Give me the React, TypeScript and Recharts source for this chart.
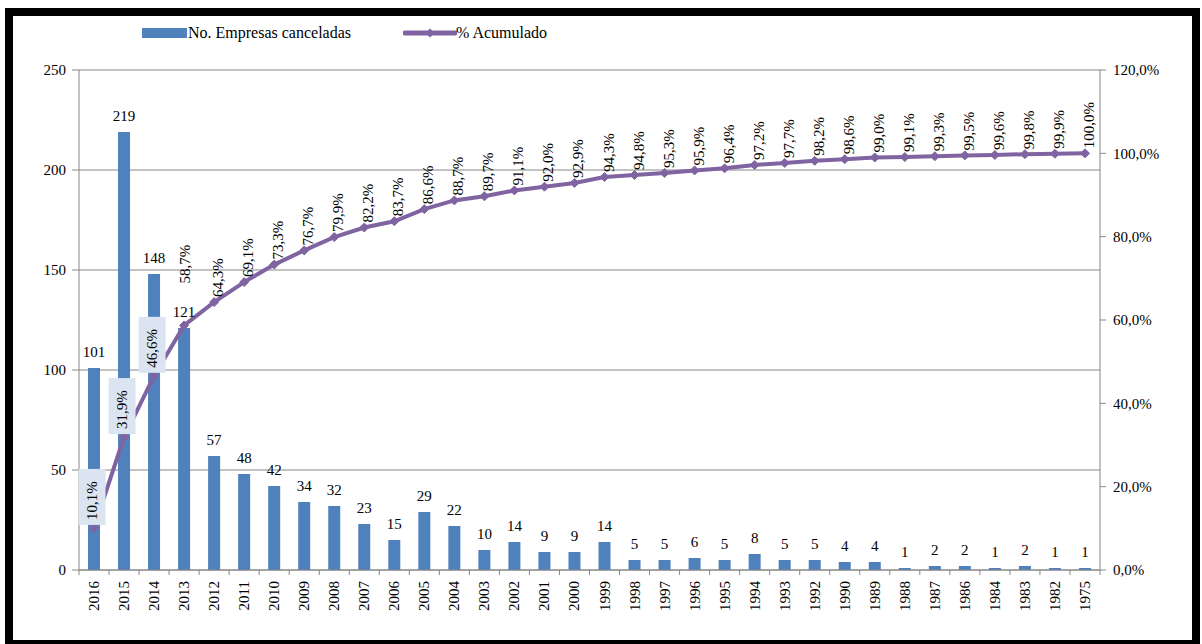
import React from 'react';
import {
  ComposedChart,
  Bar,
  Line,
  XAxis,
  YAxis,
  CartesianGrid,
  LabelList,
} from 'recharts';

// Year of cancellation (categories, in chart order)
const years = [
  '2016', '2015', '2014', '2013', '2012', '2011', '2010', '2009', '2008', '2007',
  '2006', '2005', '2004', '2003', '2002', '2001', '2000', '1999', '1998', '1997',
  '1996', '1995', '1994', '1993', '1992', '1990', '1989', '1988', '1987', '1986',
  '1984', '1983', '1982', '1975',
];

// No. Empresas canceladas per year
const canceladas = [
  101, 219, 148, 121, 57, 48, 42, 34, 32, 23,
  15, 29, 22, 10, 14, 9, 9, 14, 5, 5,
  6, 5, 8, 5, 5, 4, 4, 1, 2, 2,
  1, 2, 1, 1,
];

// % Acumulado (cumulative share)
const acumulado = [
  10.1, 31.9, 46.6, 58.7, 64.3, 69.1, 73.3, 76.7, 79.9, 82.2,
  83.7, 86.6, 88.7, 89.7, 91.1, 92.0, 92.9, 94.3, 94.8, 95.3,
  95.9, 96.4, 97.2, 97.7, 98.2, 98.6, 99.0, 99.1, 99.3, 99.5,
  99.6, 99.8, 99.9, 100.0,
];

const countTicks = [0, 50, 100, 150, 200, 250];
const pctTicks = [0, 20, 40, 60, 80, 100, 120];

const data = years.map((year, i) => ({
  year,
  canceladas: canceladas[i],
  acumulado: acumulado[i],
}));

const FONT = '"Liberation Serif", "Times New Roman", serif';
const BAR_COLOR = '#4F81BD';
const LINE_COLOR = '#8064A2';
const AXIS_COLOR = '#868686';

const CHART_W = 1202;
const CHART_H = 644;
const PLOT_LEFT = 79;
const PLOT_RIGHT = 1100;
const LEFT_AXIS_W = 60;
const RIGHT_AXIS_W = 80;
const X_AXIS_H = 50;
const BAND = (PLOT_RIGHT - PLOT_LEFT) / years.length;

const fmtPct = (v: number) => `${v.toFixed(1).replace('.', ',')}%`;

// Year label rotated upward, with tick marks on the category boundaries
const YearTick = (props: any) => {
  const { x, y, payload, index } = props;
  const last = index === years.length - 1;
  return (
    <g>
      <line x1={x - BAND / 2} x2={x - BAND / 2} y1={y} y2={y + 5} stroke={AXIS_COLOR} />
      {last && (
        <line x1={x + BAND / 2} x2={x + BAND / 2} y1={y} y2={y + 5} stroke={AXIS_COLOR} />
      )}
      <text
        transform={`translate(${x},${y + 11}) rotate(-90)`}
        textAnchor="end"
        dominantBaseline="central"
        fontFamily={FONT}
        fontSize={15}
        fill="#000"
      >
        {payload.value}
      </text>
    </g>
  );
};

// Diamond marker for the cumulative line
const Diamond = (props: any) => {
  const { cx, cy } = props;
  if (cx == null || cy == null) return null;
  const r = 4.5;
  return (
    <polygon
      points={`${cx},${cy - r} ${cx + r},${cy} ${cx},${cy + r} ${cx - r},${cy}`}
      fill={LINE_COLOR}
      stroke={LINE_COLOR}
    />
  );
};

// Rotated percentage labels above each point; the first three sit in shaded boxes
const PctLabel = (props: any) => {
  const { x, y, value, index } = props;
  const text = fmtPct(Number(value));
  if (index < 3) {
    const w = 27;
    const h = 56;
    const bx = x - 2 - w / 2;
    const by = y - 3 - h;
    return (
      <g>
        <rect x={bx} y={by} width={w} height={h} fill="#DBE5F1" />
        <text
          transform={`translate(${x - 2},${by + h - 5}) rotate(-90)`}
          textAnchor="start"
          dominantBaseline="central"
          fontFamily={FONT}
          fontSize={15}
          fill="#000"
        >
          {text}
        </text>
      </g>
    );
  }
  const lift = index === 3 ? 42 : 5;
  const dx = index === 3 ? 1 : 4;
  return (
    <text
      transform={`translate(${x + dx},${y - lift}) rotate(-90)`}
      textAnchor="start"
      dominantBaseline="central"
      fontFamily={FONT}
      fontSize={15}
      fill="#000"
    >
      {text}
    </text>
  );
};

const LegendRow = () => (
  <div
    style={{
      position: 'absolute',
      left: 0,
      top: 0,
      width: CHART_W,
      height: 60,
      fontFamily: FONT,
      fontSize: 16,
      color: '#000',
      pointerEvents: 'none',
    }}
  >
    <div style={{ position: 'absolute', left: 142, top: 28, width: 45, height: 10, background: BAR_COLOR }} />
    <div style={{ position: 'absolute', left: 188, top: 23, lineHeight: '20px', whiteSpace: 'nowrap' }}>
      No. Empresas canceladas
    </div>
    <svg style={{ position: 'absolute', left: 403, top: 26 }} width={54} height={14}>
      <line x1={2} x2={52} y1={7} y2={7} stroke={LINE_COLOR} strokeWidth={5} strokeLinecap="round" />
      <polygon points="27,2.5 31.5,7 27,11.5 22.5,7" fill={LINE_COLOR} />
    </svg>
    <div style={{ position: 'absolute', left: 456, top: 23, lineHeight: '20px', whiteSpace: 'nowrap' }}>
      % Acumulado
    </div>
  </div>
);

export default function App() {
  return (
    <div
      style={{
        position: 'absolute',
        left: 0,
        top: 0,
        width: CHART_W,
        height: CHART_H,
        background: '#fff',
        overflow: 'hidden',
      }}
    >
      <ComposedChart
        width={CHART_W}
        height={CHART_H}
        data={data}
        margin={{
          top: 70,
          left: PLOT_LEFT - LEFT_AXIS_W,
          right: CHART_W - PLOT_RIGHT - RIGHT_AXIS_W,
          bottom: CHART_H - 570 - X_AXIS_H,
        }}
      >
        <CartesianGrid yAxisId="left" vertical={false} stroke={AXIS_COLOR} strokeWidth={1} />
        <XAxis
          dataKey="year"
          interval={0}
          height={X_AXIS_H}
          tickSize={0}
          tickMargin={0}
          tick={<YearTick />}
          axisLine={{ stroke: AXIS_COLOR }}
        />
        <YAxis
          yAxisId="left"
          orientation="left"
          width={LEFT_AXIS_W}
          domain={[0, 250]}
          ticks={countTicks}
          interval={0}
          tickSize={7}
          tickMargin={6}
          axisLine={{ stroke: AXIS_COLOR }}
          tickLine={{ stroke: AXIS_COLOR }}
          tick={{ fill: '#000', fontSize: 15, fontFamily: FONT }}
        />
        <YAxis
          yAxisId="right"
          orientation="right"
          width={RIGHT_AXIS_W}
          domain={[0, 120]}
          ticks={pctTicks}
          interval={0}
          tickSize={6}
          tickMargin={7}
          tickFormatter={(v: number) => fmtPct(v)}
          axisLine={{ stroke: AXIS_COLOR }}
          tickLine={{ stroke: AXIS_COLOR }}
          tick={{ fill: '#000', fontSize: 15, fontFamily: FONT }}
        />
        <Bar
          yAxisId="left"
          dataKey="canceladas"
          fill={BAR_COLOR}
          barSize={12}
          isAnimationActive={false}
        >
          <LabelList
            dataKey="canceladas"
            position="top"
            offset={11}
            fill="#000"
            fontSize={15}
            fontFamily={FONT}
          />
        </Bar>
        <Line
          yAxisId="right"
          dataKey="acumulado"
          type="linear"
          stroke={LINE_COLOR}
          strokeWidth={4}
          dot={<Diamond />}
          activeDot={false}
          isAnimationActive={false}
        >
          <LabelList dataKey="acumulado" content={<PctLabel />} />
        </Line>
      </ComposedChart>
      <LegendRow />
      <div
        style={{
          position: 'absolute',
          left: 5,
          top: 8,
          width: 1195,
          height: 640,
          border: '8px solid #000',
          boxSizing: 'border-box',
          pointerEvents: 'none',
        }}
      />
    </div>
  );
}
